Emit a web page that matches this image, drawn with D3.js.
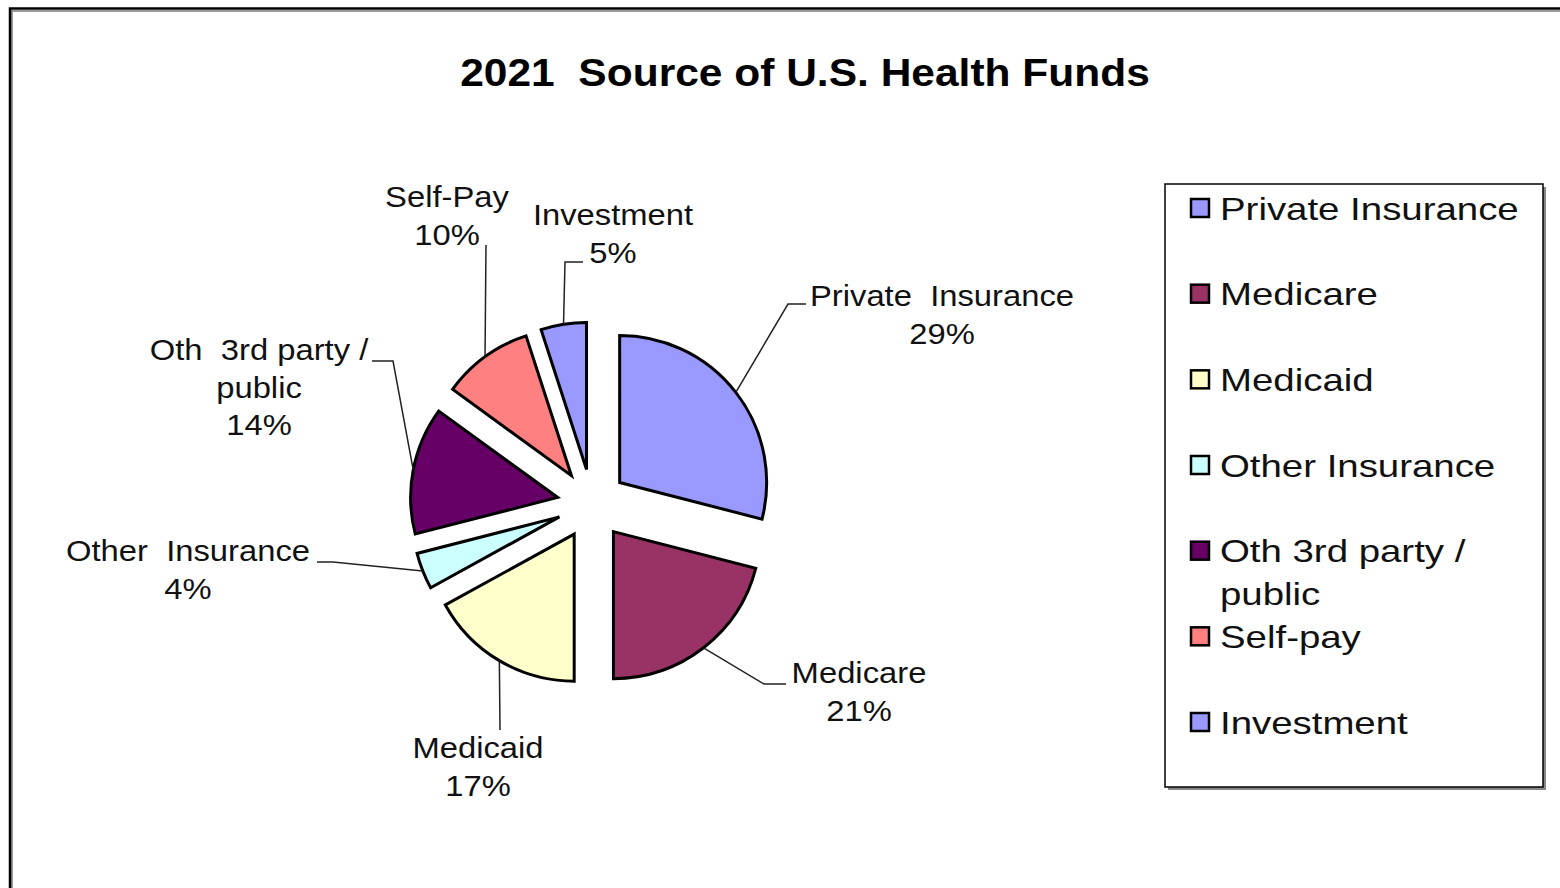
<!DOCTYPE html>
<html>
<head>
<meta charset="utf-8">
<script src="https://cdn.jsdelivr.net/npm/d3@7"></script>
<style>
  html, body { margin: 0; padding: 0; background: #fff; }
  svg { display: block; }
  text { font-family: "Liberation Sans", Arial, sans-serif; fill: #111; white-space: pre; }
</style>
</head>
<body>
<svg id="chart" width="1560" height="888"></svg>
<script>
// Sources of U.S. health funds, 2021 (percent of total)
const categories = ["Private Insurance", "Medicare", "Medicaid", "Other Insurance", "Oth 3rd party / public", "Self-pay", "Investment"];
const labelNames = ["Private  Insurance", "Medicare", "Medicaid", "Other  Insurance", "Oth  3rd party /\npublic", "Self-Pay", "Investment"];
const legendNames = ["Private Insurance", "Medicare", "Medicaid", "Other Insurance", "Oth 3rd party /\npublic", "Self-pay", "Investment"];
const shares = [29, 21, 17, 4, 14, 10, 5];
const colors = ["#9999FF", "#993366", "#FFFFCC", "#CCFFFF", "#660066", "#FF8080", "#9999FF"];
const title = "2021  Source of U.S. Health Funds";

// Label placement: text anchor (centre x, first line y) and leader elbow / end points
const labelLayout = [
  { x: 942, y: 296, leader: [[788, 304], [806, 304]] },
  { x: 859, y: 673, leader: [[764, 684], [786, 684]] },
  { x: 478, y: 748, leader: [[500, 730]] },
  { x: 188, y: 551, leader: [[333, 562], [317, 562]] },
  { x: 259, y: 350, leader: [[393, 361], [372, 361]] },
  { x: 447, y: 197, leader: [[486, 245]] },
  { x: 613, y: 215, leader: [[565, 262], [583, 262]] }
];

const svg = d3.select("#chart");

// Outer chart frame (runs off the right and bottom edges)
svg.append("rect")
  .attr("x", 12).attr("y", 11).attr("width", 1700).attr("height", 1000)
  .attr("fill", "none").attr("stroke", "#999").attr("stroke-width", 2);
svg.append("rect")
  .attr("x", 10).attr("y", 8.5).attr("width", 1700).attr("height", 1000)
  .attr("fill", "none").attr("stroke", "#000").attr("stroke-width", 2.5);

// Title
svg.append("text")
  .attr("transform", "translate(805,86) scale(1.09,1)")
  .attr("text-anchor", "middle")
  .attr("font-size", 39).attr("font-weight", "bold")
  .style("fill", "#000")
  .text(title);

// Pie geometry
const cx = 592, cy = 504, radius = 147, explode = 35;
const pie = d3.pie().sort(null).value(d => d).startAngle(0).endAngle(2 * Math.PI);
const arcs = pie(shares);
const arc = d3.arc().innerRadius(0).outerRadius(radius);

function offset(a, dist) {
  const mid = (a.startAngle + a.endAngle) / 2;
  return [Math.sin(mid) * dist, -Math.cos(mid) * dist];
}

const pieG = svg.append("g").attr("transform", `translate(${cx},${cy})`);
pieG.selectAll("path.slice")
  .data(arcs)
  .join("path")
  .attr("class", "slice")
  .attr("transform", d => { const [dx, dy] = offset(d, explode); return `translate(${dx},${dy})`; })
  .attr("d", arc)
  .attr("fill", (d, i) => colors[i])
  .attr("stroke", "#000")
  .attr("stroke-width", 3)
  .attr("stroke-linejoin", "miter");

// Leader lines: from the outer arc at each slice's mid angle to the label
const line = d3.line();
svg.selectAll("path.leader")
  .data(arcs)
  .join("path")
  .attr("class", "leader")
  .attr("d", (d, i) => {
    const [ex, ey] = offset(d, explode);
    const [rx, ry] = offset(d, radius);
    const start = [cx + ex + rx, cy + ey + ry];
    return line([start, ...labelLayout[i].leader]);
  })
  .attr("fill", "none")
  .attr("stroke", "#222")
  .attr("stroke-width", 1.5);

// Data labels: name and percentage
const labelSize = 29, labelLead = 37.5;
arcs.forEach((d, i) => {
  const lines = labelNames[i].split("\n").concat([`${shares[i]}%`]);
  const L = labelLayout[i];
  lines.forEach((t, k) => {
    svg.append("text")
      .attr("transform", `translate(${L.x},${L.y + k * labelLead}) scale(1.13,1)`)
      .attr("text-anchor", "middle")
      .attr("dy", "0.36em")
      .attr("font-size", labelSize)
      .text(t);
  });
});

// Legend box with drop shadow
const lg = { x: 1165, y: 184, w: 378, h: 603 };
svg.append("rect")
  .attr("x", lg.x + 3).attr("y", lg.y + 3).attr("width", lg.w).attr("height", lg.h)
  .attr("fill", "#888");
svg.append("rect")
  .attr("x", lg.x).attr("y", lg.y).attr("width", lg.w).attr("height", lg.h)
  .attr("fill", "#fff").attr("stroke", "#000").attr("stroke-width", 1.5);

const legendY = d3.scalePoint().domain(d3.range(categories.length)).range([208, 722]);
const legendG = svg.append("g");
categories.forEach((c, i) => {
  const y = legendY(i);
  legendG.append("rect")
    .attr("x", 1191).attr("y", y - 9).attr("width", 18).attr("height", 18)
    .attr("fill", colors[i]).attr("stroke", "#000").attr("stroke-width", 2.5);
  legendNames[i].split("\n").forEach((t, k) => {
    legendG.append("text")
      .attr("transform", `translate(1220,${y + k * 43}) scale(1.2,1)`)
      .attr("dy", "0.36em")
      .attr("font-size", 32)
      .text(t);
  });
});
</script>
</body>
</html>
